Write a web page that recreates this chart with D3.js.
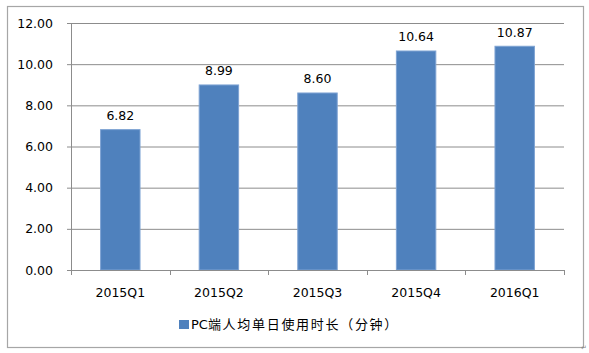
<!DOCTYPE html>
<html lang="zh">
  <head>
    <meta charset="utf-8">
    <title>PC端人均单日使用时长</title>
    <script src="https://cdn.jsdelivr.net/npm/d3@7/dist/d3.min.js"></script>
    <style>
      body { margin: 0; background: #fff; }
    </style>
  </head>
  <body>
    <svg width="589" height="353" id="mainsvg"></svg>
    <script>
      const quarters = ['2015Q1', '2015Q2', '2015Q3', '2015Q4', '2016Q1'];
      const minutes = [6.82, 8.99, 8.60, 10.64, 10.87];
      const yTicks = [0, 2, 4, 6, 8, 10, 12];
      const seriesName = 'PC端人均单日使用时长（分钟）';

      const svg = d3.select('#mainsvg');
      const margin = { top: 23, right: 25, bottom: 83, left: 71 };
      const innerWidth = 564 - margin.left;
      const innerHeight = 270 - margin.top;
      const font = '"DejaVu Sans", "Noto Sans CJK SC", sans-serif';
      const textColor = '#000';

      // 外框
      svg.append('rect')
        .attr('x', 7.5).attr('y', 6.5)
        .attr('width', 576).attr('height', 341)
        .attr('fill', 'none')
        .attr('stroke', '#a6a6a6')
        .attr('stroke-width', 1.2);

      const g = svg.append('g')
        .attr('transform', `translate(${margin.left}, ${margin.top})`);

      const xScale = d3.scaleBand()
        .domain(quarters)
        .range([0, innerWidth])
        .paddingInner(0.6)
        .paddingOuter(0.3);

      const yScale = d3.scaleLinear()
        .domain([0, 12])
        .range([innerHeight, 0]);

      // 网格线
      const yAxis = d3.axisLeft(yScale)
        .tickValues(yTicks)
        .tickFormat(d3.format('.2f'))
        .tickSize(-innerWidth)
        .tickPadding(18);
      const yAxisGroup = g.append('g').call(yAxis);
      yAxisGroup.select('.domain').remove();
      yAxisGroup.selectAll('.tick line')
        .attr('stroke', '#8c8c8c')
        .attr('x1', -4);
      yAxisGroup.selectAll('.tick text')
        .attr('font-family', font)
        .attr('font-size', 12.5)
        .attr('fill', textColor);

      g.append('line')
        .attr('x1', 0.5).attr('x2', 0.5)
        .attr('y1', 0).attr('y2', innerHeight)
        .attr('stroke', '#8c8c8c');

      // 柱子
      g.selectAll('.bar')
        .data(minutes)
        .enter().append('rect')
        .attr('class', 'bar')
        .attr('x', (d, i) => xScale(quarters[i]))
        .attr('y', d => yScale(d))
        .attr('width', xScale.bandwidth())
        .attr('height', d => innerHeight - yScale(d))
        .attr('fill', '#4f81bd')
        .attr('stroke', '#7ea3d3')
        .attr('stroke-width', 1);

      g.selectAll('.value_text')
        .data(minutes)
        .enter().append('text')
        .attr('class', 'value_text')
        .attr('x', (d, i) => xScale(quarters[i]) + xScale.bandwidth() / 2)
        .attr('y', d => yScale(d) - 9.5)
        .attr('text-anchor', 'middle')
        .attr('font-family', font)
        .attr('font-size', 12.5)
        .attr('fill', textColor)
        .text(d => d.toFixed(2));

      // x轴
      const xPos = d3.scaleLinear().domain([0, quarters.length]).range([0, innerWidth]);
      const xAxisGroup = g.append('g')
        .attr('transform', `translate(0, ${innerHeight})`);
      xAxisGroup.append('line')
        .attr('x1', 0).attr('x2', innerWidth)
        .attr('y1', 0.5).attr('y2', 0.5)
        .attr('stroke', '#8c8c8c');
      xAxisGroup.selectAll('.xtick')
        .data(d3.range(quarters.length + 1))
        .enter().append('line')
        .attr('x1', d => Math.round(xPos(d)) + 0.5)
        .attr('x2', d => Math.round(xPos(d)) + 0.5)
        .attr('y1', 0).attr('y2', 5)
        .attr('stroke', '#8c8c8c');
      xAxisGroup.selectAll('.xlabel')
        .data(quarters)
        .enter().append('text')
        .attr('x', d => xScale(d) + xScale.bandwidth() / 2)
        .attr('y', 27)
        .attr('text-anchor', 'middle')
        .attr('font-family', font)
        .attr('font-size', 12.5)
        .attr('fill', textColor)
        .text(d => d);

      // 图例
      const legend = svg.append('g')
        .attr('transform', 'translate(179, 320)');
      legend.append('rect')
        .attr('width', 10).attr('height', 9)
        .attr('fill', '#4f81bd');
      const legendText = legend.append('text')
        .attr('x', 12).attr('y', 9)
        .attr('font-family', font)
        .attr('font-size', 13)
        .attr('fill', textColor);
      legendText.append('tspan').text(seriesName.slice(0, 2));
      legendText.append('tspan')
        .attr('letter-spacing', 1.7)
        .text(seriesName.slice(2));

      svg.append('text')
        .attr('x', 581).attr('y', 350)
        .attr('font-family', font)
        .attr('font-size', 7)
        .attr('fill', '#888')
        .text('↵');
    </script>
  </body>
</html>
